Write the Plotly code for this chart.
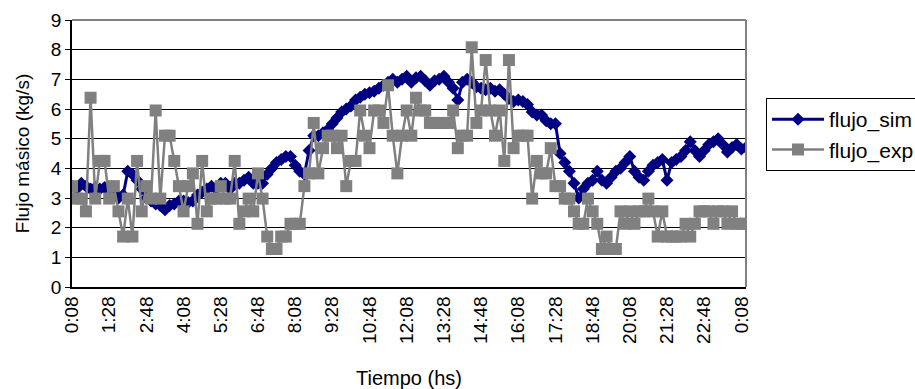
import plotly.graph_objects as go

# Category labels shown on the x axis (one every 8 samples of 10 min)
tick_labels = ["0:08", "1:28", "2:48", "4:08", "5:28", "6:48", "8:08", "9:28", "10:48",
               "12:08", "13:28", "14:48", "16:08", "17:28", "18:48", "20:08", "21:28",
               "22:48", "0:08"]
y_ticks = [0, 1, 2, 3, 4, 5, 6, 7, 8, 9]

flujo_sim = [
    3.4, 3.3, 3.5, 3.4, 3.3, 3.35, 3.3, 3.35, 3.3, 3.2,
    3.0, 3.1, 3.9, 3.8, 3.6, 3.3, 3.0, 2.9, 2.8, 2.75,
    2.6, 2.75, 2.8, 2.9, 2.9, 2.85, 2.9, 3.1, 3.2, 3.3,
    3.4, 3.3, 3.5, 3.5, 3.3, 3.5, 3.5, 3.6, 3.7, 3.5,
    3.5, 3.5, 3.8, 4.0, 4.2, 4.3, 4.4, 4.4, 4.1, 3.9,
    3.8, 4.6, 5.1, 5.1, 5.2, 5.3, 5.5, 5.7, 5.9, 6.0,
    6.1, 6.3, 6.4, 6.5, 6.55, 6.6, 6.7, 6.8, 6.9, 7.0,
    6.9, 7.0, 7.1, 6.9, 7.05, 7.1, 6.95, 6.8, 6.95, 7.0,
    7.1, 6.9, 6.7, 6.3, 6.9, 7.0, 6.9, 6.75, 6.7, 6.65,
    6.7, 6.6, 6.65, 6.5, 6.35, 6.25, 6.3, 6.25, 6.15, 5.9,
    5.8, 5.8, 5.6, 5.5, 5.5, 4.5, 4.2, 3.9, 3.5, 3.0,
    3.3, 3.5, 3.6, 3.9, 3.6, 3.5, 3.7, 3.9, 4.0, 4.2,
    4.4, 3.9, 3.7, 3.6, 3.9, 4.1, 4.2, 4.3, 3.6, 4.2,
    4.3, 4.4, 4.6, 4.9, 4.6, 4.4, 4.6, 4.8, 4.9, 5.0,
    4.8, 4.55, 4.7, 4.8, 4.65, 4.7,
]

flujo_exp = [
    3.4, 2.98, 2.98, 2.55, 6.38, 2.98, 4.25, 4.25, 2.98, 3.4,
    2.55, 1.7, 2.98, 1.7, 4.25, 2.55, 3.4, 2.98, 5.95, 2.98,
    5.1, 5.1, 4.25, 3.4, 2.55, 3.4, 3.83, 2.13, 4.25, 2.55,
    2.98, 2.98, 3.4, 2.98, 2.98, 4.25, 2.13, 2.55, 2.98, 2.55,
    3.83, 2.98, 1.7, 1.28, 1.28, 1.7, 1.7, 2.13, 2.13, 2.13,
    3.4, 3.83, 5.53, 3.83, 4.68, 5.1, 5.1, 4.68, 5.1, 3.4,
    4.25, 4.25, 5.95, 5.1, 4.68, 5.95, 5.95, 5.53, 6.8, 5.1,
    3.83, 5.1, 5.95, 5.1, 6.38, 5.95, 5.95, 5.53, 5.53, 5.53,
    5.53, 5.53, 5.95, 4.68, 5.1, 5.1, 8.08, 5.53, 5.95, 7.65,
    5.95, 5.1, 5.95, 4.25, 7.65, 4.68, 5.1, 5.1, 5.1, 2.98,
    4.25, 3.83, 3.83, 4.68, 3.4, 3.4, 2.98, 2.98, 2.55, 2.13,
    2.13, 2.98, 2.55, 2.13, 1.28, 1.7, 1.28, 1.28, 2.55, 2.13,
    2.55, 2.13, 2.55, 2.55, 2.98, 2.55, 1.7, 2.55, 1.7, 1.7,
    1.7, 1.7, 2.13, 1.7, 2.13, 2.55, 2.55, 2.55, 2.13, 2.55,
    2.55, 2.13, 2.55, 2.13, 2.13, 2.13,
]

n = len(flujo_sim)
x_idx = list(range(n))
label_pos = list(range(0, n, 8))[:len(tick_labels)]
tickmark_pos = list(range(0, n, 10))

FONT = "Liberation Sans, Arial, sans-serif"

fig = go.Figure()
fig.add_trace(go.Scatter(
    x=x_idx, y=flujo_sim, name="flujo_sim", mode="lines+markers",
    line=dict(color="#000080", width=3),
    marker=dict(symbol="diamond", size=10, color="#000080"),
))
fig.add_trace(go.Scatter(
    x=x_idx, y=flujo_exp, name="flujo_exp", mode="lines+markers",
    line=dict(color="#808080", width=2.5),
    marker=dict(symbol="square", size=12, color="#808080"),
))

fig.update_layout(
    width=915, height=389,
    margin=dict(l=72, r=169, t=20, b=102, autoexpand=False),
    paper_bgcolor="white", plot_bgcolor="white",
    font=dict(family=FONT, size=19, color="black"),
    showlegend=True,
    legend=dict(
        x=1.0297, xanchor="left", y=0.571, yanchor="middle",
        bgcolor="white", bordercolor="black", borderwidth=1,
        font=dict(family=FONT, size=21, color="black"),
        itemwidth=52, entrywidth=110, tracegroupgap=0,
    ),
    xaxis=dict(
        range=[0, n - 1], tickmode="array", tickvals=label_pos, ticktext=tick_labels,
        tickangle=-90, ticks="", showgrid=False, zeroline=False,
        showline=True, linecolor="black", linewidth=1.5,
        tickfont=dict(family=FONT, size=19, color="black"),
        title=dict(text="Tiempo (hs)", font=dict(family=FONT, size=20), standoff=28),
    ),
    xaxis2=dict(
        range=[0, n - 1], overlaying="x", anchor="y", side="bottom",
        tickmode="array", tickvals=tickmark_pos, showticklabels=False,
        ticks="outside", ticklen=5, tickwidth=1.2, tickcolor="black",
        showgrid=False, zeroline=False, showline=False,
    ),
    yaxis=dict(
        range=[0, 9], tickmode="array", tickvals=y_ticks,
        ticks="outside", ticklen=5, tickwidth=1.2, tickcolor="black",
        showgrid=True, gridcolor="black", gridwidth=1, zeroline=False,
        showline=True, linecolor="black", linewidth=1.5,
        tickfont=dict(family=FONT, size=19, color="black"),
        title=dict(text="Flujo másico (kg/s)", font=dict(family=FONT, size=19), standoff=16),
    ),
    shapes=[
        dict(type="line", xref="paper", yref="paper", x0=0, x1=1, y0=1, y1=1,
             line=dict(color="#808080", width=2), layer="above"),
        dict(type="line", xref="paper", yref="paper", x0=1, x1=1, y0=0, y1=1,
             line=dict(color="#808080", width=2), layer="above"),
    ],
)

fig.write_html("out.html")
